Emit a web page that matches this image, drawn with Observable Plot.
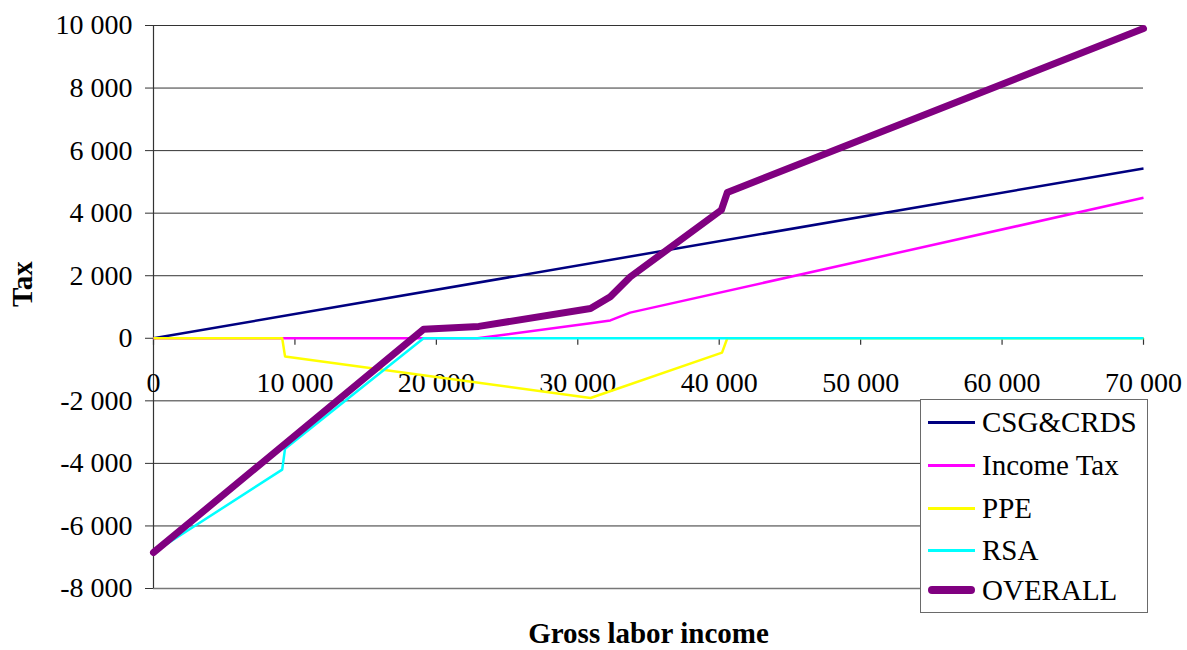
<!DOCTYPE html>
<html>
<head>
<meta charset="utf-8">
<script src="https://cdn.jsdelivr.net/npm/d3@7"></script>
<script src="https://cdn.jsdelivr.net/npm/@observablehq/plot@0.6"></script>
<style>
  html, body { margin: 0; padding: 0; background: #fff; }
  #wrap { position: relative; width: 1187px; height: 650px; font-family: "Liberation Serif", "DejaVu Serif", serif; }
  #legend {
    position: absolute; left: 920px; top: 399px; width: 226px; height: 212px;
    border: 1px solid #6a6a6a; background: #fff; box-sizing: content-box;
  }
  .row { position: absolute; left: 0; height: 40px; display: flex; align-items: center; }
  .sw { width: 47px; margin-left: 7px; margin-right: 7px; }
  .lab { font-size: 29px; color: #000; white-space: nowrap; }
</style>
</head>
<body>
<div id="wrap"><div id="chart"></div><div id="legend"></div></div>
<script>
// Tax schedule components by gross labor income (euros per year)
const seriesNames = ["CSG&CRDS", "Income Tax", "PPE", "RSA", "OVERALL"];

const csgIncome = [0, 70000];
const csgTax    = [0, 5430];

const incomeTaxIncome = [0, 22900, 30900, 32300, 33700, 70000];
const incomeTaxTax    = [0, 0, 480, 570, 820, 4490];

const ppeIncome = [0, 9100, 9300, 30900, 40200, 40570, 70000];
const ppeTax    = [0, 0, -580, -1910, -460, 0, 0];

const rsaIncome = [0, 9100, 9300, 19100, 70000];
const rsaTax    = [-6850, -4200, -3530, 0, 0];

const overallIncome = [0, 19100, 23000, 30900, 32300, 33700, 40150, 40570, 70000];
const overallTax    = [-6850, 290, 380, 950, 1330, 1960, 4100, 4660, 9904];

const xTicks = [0, 10000, 20000, 30000, 40000, 50000, 60000, 70000];
const yTicks = [-8000, -6000, -4000, -2000, 0, 2000, 4000, 6000, 8000, 10000];

// Styling for each series, in drawing order
const styles = {
  "CSG&CRDS":   {color: "#000080", width: 2.5},
  "Income Tax": {color: "#ff00ff", width: 2.5},
  "PPE":        {color: "#ffff00", width: 2.5},
  "RSA":        {color: "#00ffff", width: 2.5},
  "OVERALL":    {color: "#800080", width: 7}
};

const toRows = (name, xs, ys) => xs.map((x, i) => ({series: name, income: x, tax: ys[i]}));
const series = [
  toRows("CSG&CRDS", csgIncome, csgTax),
  toRows("Income Tax", incomeTaxIncome, incomeTaxTax),
  toRows("PPE", ppeIncome, ppeTax),
  toRows("RSA", rsaIncome, rsaTax),
  toRows("OVERALL", overallIncome, overallTax)
];

// "10 000" style numbers with a plain hyphen for negatives
const fmt = d => d3.format(",")(d).replace(/,/g, " ").replace("\u2212", "-");

const lineMarks = series.map(rows => {
  const s = styles[rows[0].series];
  return Plot.line(rows, {
    x: "income", y: "tax",
    stroke: s.color, strokeWidth: s.width,
    strokeLinejoin: "round", strokeLinecap: s.width > 3 ? "round" : "butt"
  });
});

const chart = Plot.plot({
  width: 1187,
  height: 650,
  marginLeft: 153,
  marginRight: 44,
  marginTop: 25,
  marginBottom: 62,
  style: {fontFamily: "'Liberation Serif', 'DejaVu Serif', serif", fontSize: "28px", color: "#000", background: "#fff"},
  x: {domain: [0, 70000], axis: null},
  y: {domain: [-8000, 10000], axis: null},
  marks: [
    Plot.gridY(yTicks, {stroke: "#333", strokeOpacity: 1, strokeWidth: 1}),
    Plot.ruleY([-8000], {stroke: "#777", strokeWidth: 1.5}),
    Plot.ruleX([0], {stroke: "#333", strokeWidth: 1.2}),
    Plot.axisY(yTicks, {
      tickSize: 8, tickPadding: 13, tickFormat: fmt, stroke: "#333",
      label: null, fontSize: 28
    }),
    // x axis sits on the zero line
    Plot.ruleX(xTicks, {x: d => d, y1: 0, y2: 0, insetBottom: -7, stroke: "#333", strokeWidth: 1.2}),
    Plot.text(xTicks, {x: d => d, y: 0, text: fmt, dy: 45, lineAnchor: "middle", fontSize: 28, fill: "#000"}),
    ...lineMarks,
    Plot.text(["Tax"], {frameAnchor: "left", dx: -131, rotate: -90, fontWeight: "bold", fontSize: 29, fill: "#000"}),
    Plot.text(["Gross labor income"], {frameAnchor: "bottom", dy: 45, lineAnchor: "middle", fontWeight: "bold", fontSize: 29, fill: "#000"})
  ]
});
document.getElementById("chart").appendChild(chart);

// Legend box
const legend = document.getElementById("legend");
const rowTops = [2, 45, 88, 130, 170];
seriesNames.forEach((name, i) => {
  const s = styles[name];
  const row = document.createElement("div");
  row.className = "row";
  row.style.top = rowTops[i] + "px";
  const sw = document.createElement("div");
  sw.className = "sw";
  sw.style.height = (s.width > 3 ? 8 : 3) + "px";
  sw.style.background = s.color;
  if (s.width > 3) sw.style.borderRadius = "4px";
  const lab = document.createElement("span");
  lab.className = "lab";
  lab.textContent = name;
  row.appendChild(sw);
  row.appendChild(lab);
  legend.appendChild(row);
});
</script>
</body>
</html>
